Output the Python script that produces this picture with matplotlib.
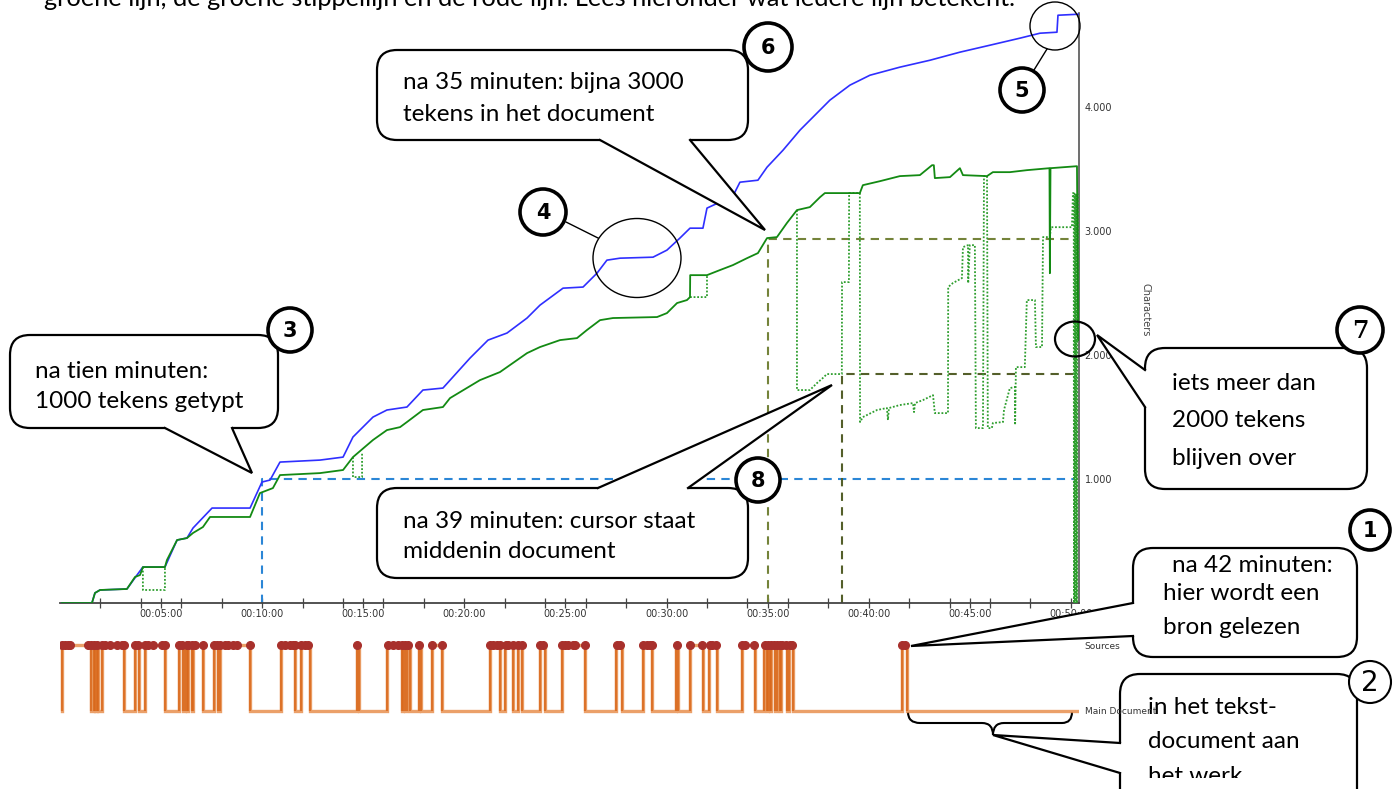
import numpy as np
import matplotlib
matplotlib.use("Agg")
import matplotlib.pyplot as plt
from matplotlib.patches import FancyBboxPatch, Polygon, Circle, Ellipse, PathPatch
from matplotlib.path import Path
from matplotlib.transforms import Bbox, TransformedBbox

# ---------------- data (time in minutes, characters) ----------------
blue_t = [0.1, 1.58, 1.73, 1.98, 3.31, 3.81, 4.10, 5.19, 5.79, 6.28, 6.58, 7.52, 9.40, 9.99,
          10.39, 10.88, 12.86, 14.00, 14.49, 15.48, 16.17, 17.16, 17.95, 18.94, 20.28, 21.17,
          22.11, 23.10, 23.74, 24.88, 25.87, 26.56, 27.05, 27.70, 29.33, 30.02, 30.66, 31.16,
          31.80, 32.00, 32.64, 33.28, 33.63, 34.52, 34.97, 35.76, 36.60, 38.08, 39.07, 40.06,
          41.54, 43.03, 44.51, 45.99, 47.48, 48.47, 49.31, 49.36, 50.36]
blue_c = [0, 0, 81, 105, 113, 226, 290, 290, 508, 524, 605, 766, 766, 976,
          992, 1137, 1153, 1177, 1339, 1500, 1557, 1581, 1718, 1734, 1976, 2121,
          2178, 2299, 2403, 2540, 2549, 2661, 2766, 2782, 2790, 2847, 2944, 3024,
          3024, 3186, 3234, 3282, 3395, 3411, 3516, 3653, 3815, 4057, 4178, 4258,
          4323, 4379, 4444, 4500, 4557, 4597, 4605, 4742, 4750]

product_t = [0.1, 1.58, 1.73, 1.98, 3.31, 3.71, 3.96, 4.10, 5.19, 5.29, 5.79, 6.28, 6.58, 7.07,
             7.42, 9.40, 9.89, 10.53, 10.88, 12.86, 14.00, 14.49, 15.48, 16.17, 16.82, 17.16,
             17.95, 18.94, 19.29, 20.77, 21.76, 22.11, 23.10, 23.74, 24.73, 25.57, 26.06, 26.71,
             27.35, 29.53, 30.02, 30.52, 31.01, 31.16, 31.17, 32.00, 32.64, 33.28, 33.98, 34.52,
             34.97, 35.46, 35.95, 36.45, 37.09, 37.59, 37.83, 39.56, 39.71, 40.55, 41.54, 42.53,
             43.13, 43.22, 43.27, 44.02, 44.51, 44.66, 45.85, 46.14, 46.98, 47.82, 48.94, 48.96,
             48.99, 50.30, 50.36]
product_c = [0, 0, 81, 105, 113, 210, 226, 290, 290, 347, 508, 524, 565, 613,
             694, 694, 887, 927, 1032, 1048, 1073, 1177, 1315, 1395, 1419, 1460,
             1557, 1581, 1653, 1798, 1863, 1903, 2016, 2065, 2121, 2137, 2202, 2282,
             2299, 2307, 2339, 2420, 2444, 2468, 2645, 2645, 2686, 2726, 2782, 2823,
             2944, 2952, 3065, 3170, 3194, 3274, 3307, 3307, 3371, 3403, 3444, 3452,
             3532, 3532, 3428, 3436, 3508, 3452, 3444, 3476, 3476, 3492, 3508, 2661,
             3508, 3524, 2121]

# cursor position (only where it leaves the end of the text); NaN separates episodes
cursor_t = [4.10, 4.10, 5.19, 5.19, np.nan,
            14.49, 14.49, 14.94, 14.94, np.nan,
            31.16, 32.00, 32.00, np.nan,
            36.45, 36.45, 37.09, 37.44, 37.73, 37.93, 38.67, 38.68, 39.02, 39.03, 39.56, 39.57,
            39.71, 40.41, 40.90, 40.95, 41.00, 41.54, 42.19, 42.24, 42.29, 42.68, 43.18, 43.27,
            43.92, 43.93, 44.16, 44.61, 44.66, 44.91, 44.92, 45.00, 45.25, 45.30, 45.65, 45.70,
            45.85, 45.89, 46.09, 46.14, 46.64, 46.69, 46.98, 47.23, 47.24, 47.28, 47.72, 47.82,
            48.22, 48.27, 48.57, 48.62, 48.96, 49.01, 50.05, 50.10, 50.14, 50.15, 50.19, 50.22,
            50.26, 50.29, 50.33, 50.36]
cursor_c = [290, 105, 105, 290, np.nan,
            1177, 1016, 1016, 1210, np.nan,
            2468, 2468, 2645, np.nan,
            3170, 1718, 1718, 1774, 1815, 1847, 1847, 2589, 2589, 3307, 3307, 1460,
            1500, 1557, 1573, 1476, 1573, 1597, 1613, 1540, 1613, 1637, 1677, 1532,
            1532, 2549, 2581, 2621, 2871, 2887, 2581, 2887, 2887, 1411, 1411, 3444,
            3444, 1411, 1411, 1452, 1460, 1557, 1734, 1742, 1436, 1903, 1903, 2444,
            2444, 2065, 2065, 2952, 2952, 3032, 3032, 3307, 3307, 0, 3300, 0,
            3300, 0, 3300, 2121]

# reference lines (minute, characters)
ref_t = [10.0, 35.0, 38.67]
ref_c = [1000, 2940, 1847]
ref_colors = ["#2b86d6", "#74833a", "#545f2a"]
ref_end = 50.2

# time spent in sources (start, end) in minutes
source_intervals = [(0.09, 1.53), (1.66, 1.73), (1.83, 1.90), (2.06, 3.18), (3.71, 3.91),
                    (4.20, 5.19), (5.89, 6.10), (6.18, 6.27), (6.33, 6.51), (6.58, 7.09),
                    (7.63, 7.80), (7.91, 9.40), (10.92, 11.62), (11.92, 12.36), (14.67, 14.79),
                    (16.16, 16.90), (16.96, 17.06), (17.14, 17.31), (17.76, 17.85), (18.41, 18.88),
                    (21.27, 21.76), (22.01, 22.42), (22.67, 22.83), (23.74, 23.99), (24.81, 25.96),
                    (27.50, 27.78), (28.82, 29.26), (30.47, 30.58), (31.16, 31.80), (32.11, 32.51),
                    (33.71, 34.37), (34.82, 34.95), (35.02, 35.11), (35.19, 35.36), (35.44, 35.61),
                    (35.68, 35.97), (36.05, 36.24), (41.63, 41.87)]
source_dots = [0.08, 0.25, 0.41, 0.49, 1.40, 1.53, 1.68, 1.85, 2.06, 2.23, 2.47, 2.80, 3.05,
               3.18, 3.71, 3.87, 4.20, 4.37, 4.61, 5.03, 5.19, 5.89, 6.05, 6.27, 6.35, 6.51,
               6.68, 7.09, 7.63, 7.75, 7.91, 8.16, 8.32, 8.57, 8.74, 9.40, 10.92, 11.13, 11.37,
               11.52, 11.62, 11.92, 12.12, 12.28, 14.70, 16.24, 16.48, 16.73, 16.90, 17.06,
               17.23, 17.77, 18.41, 18.88, 21.27, 21.43, 21.60, 21.76, 22.04, 22.17, 22.42,
               22.67, 22.83, 23.74, 23.90, 24.81, 24.98, 25.14, 25.39, 25.47, 25.96, 27.53,
               27.69, 28.85, 29.02, 29.18, 29.26, 30.51, 31.16, 31.74, 32.15, 32.25, 32.45,
               33.73, 33.88, 34.34, 34.87, 35.01, 35.16, 35.31, 35.46, 35.61, 35.71, 35.91,
               36.10, 36.20, 41.64, 41.79]
session_start = 0.08
session_end = 50.36

x_major = [5, 10, 15, 20, 25, 30, 35, 40, 45, 50]
x_labels = ["00:05:00", "00:10:00", "00:15:00", "00:20:00", "00:25:00",
            "00:30:00", "00:35:00", "00:40:00", "00:45:00", "00:50:00"]
x_minor = list(range(2, 51, 2))
y_ticks = [1000, 2000, 3000, 4000]
y_labels = ["1.000", "2.000", "3.000", "4.000"]
level_labels = ["Main Document", "Sources"]

top_text = "groene lijn, de groene stippellijn en de rode lijn. Lees hieronder wat iedere lijn betekent."

# ---------------- figure ----------------
W, H = 1399, 789
fig = plt.figure(figsize=(W / 100, H / 100), dpi=100)
TXT = ["Lato", "DejaVu Sans"]


def px_rect(l, t, r, b):
    return [l / W, 1 - b / H, (r - l) / W, (b - t) / H]


ax = fig.add_axes(px_rect(60, 13, 1079, 603), zorder=1)
ax.set_xlim(0, 50.4)
ax.set_ylim(0, 4760)
ax.patch.set_alpha(0)
for s in ("left", "top"):
    ax.spines[s].set_visible(False)
ax.spines["right"].set_color("#555555")
ax.spines["right"].set_linewidth(1.2)
ax.spines["bottom"].set_color("#444444")
ax.spines["bottom"].set_linewidth(1.3)
ax.set_xticks(x_major)
ax.set_xticklabels(x_labels)
ax.set_xticks(x_minor, minor=True)
ax.tick_params(axis="x", which="both", direction="inout", length=7, width=0.9,
               color="#444444", labelsize=7, labelcolor="#333333", pad=1)
ax.yaxis.tick_right()
ax.set_yticks(y_ticks)
ax.set_yticklabels(y_labels)
ax.tick_params(axis="y", length=0, labelsize=7, labelcolor="#333333", pad=4)
ax.text(1.0648, 0.4966, "Characters", transform=ax.transAxes, rotation=270,
        ha="center", va="center", fontsize=7, color="#444444")

for t, c, col in zip(ref_t, ref_c, ref_colors):
    ax.plot([t, t, ref_end], [0, c, c], color=col, lw=1.5, ls=(0, (4, 3)), zorder=2)

ax.plot(blue_t, blue_c, color="#2f2fff", lw=1.2, zorder=3)
ax.plot(cursor_t, cursor_c, color="#2e9e2e", lw=1.3, ls=(0, (1, 1)), zorder=4)
ax.plot(product_t, product_c, color="#138a13", lw=1.3, zorder=5)

# process graph (sources vs main document)
ax2 = fig.add_axes(px_rect(60, 640, 1079, 716), zorder=6)
ax2.set_xlim(0, 50.4)
ax2.set_ylim(-0.08, 1.08)
ax2.patch.set_alpha(0)
for s in ax2.spines.values():
    s.set_visible(False)
ax2.set_xticks([])
ax2.yaxis.tick_right()
ax2.set_yticks([0, 1])
ax2.set_yticklabels(level_labels)
ax2.tick_params(axis="y", length=0, labelsize=6.5, labelcolor="#333333", pad=4)

st, sv = [session_start], [0]
for a, b in source_intervals:
    st += [a, a, b, b]
    sv += [0, 1, 1, 0]
st.append(session_end)
sv.append(0)
ax2.plot(st, sv, color="#e8904f", alpha=0.85, lw=2.4, solid_joinstyle="miter")
trans = [v for ab in source_intervals for v in ab]
ax2.vlines(trans, 0, 1, color="#d9671a", lw=1.6, alpha=0.8)
ax2.plot(source_dots, np.ones(len(source_dots)), "o", color="#a8302c", ms=5.5, zorder=5)

# ---------------- annotation overlay (pixel coordinates) ----------------
ov = fig.add_axes([0, 0, 1, 1], zorder=5)
ov.set_xlim(0, W)
ov.set_ylim(H, 0)
ov.axis("off")
ov.patch.set_alpha(0)

ov.text(44, 6, top_text, fontsize=18.3, va="baseline", ha="left", family=TXT)

FS = 17.5


def callout(l, t, r, b, base, tip, inward, lines, fs=FS, clip_bottom=None):
    ov.add_patch(FancyBboxPatch((l, t), r - l, b - t, boxstyle="round,pad=0,rounding_size=20",
                                fc="white", ec="black", lw=1.6, zorder=2, clip_on=False))
    (x1, y1), (x2, y2) = base
    dx, dy = inward
    ov.add_patch(Polygon([(x1, y1), tip, (x2, y2), (x2 + dx, y2 + dy), (x1 + dx, y1 + dy)],
                         closed=True, fc="white", ec="none", zorder=3))
    ov.plot([x1, tip[0], x2], [y1, tip[1], y2], color="black", lw=1.6, zorder=4,
            solid_joinstyle="miter")
    for txt, x, y, va in lines:
        t_ = ov.text(x, y, txt, fontsize=fs, ha="left", va=va, family=TXT, zorder=5)
        if clip_bottom is not None:
            bb = TransformedBbox(Bbox([[l, t], [r, clip_bottom]]), ov.transData)
            t_.set_clip_box(bb)
            t_.set_clip_on(True)


def num(cx, cy, r, s, lw=2.6, bold=True, family="DejaVu Sans", fs=15):
    ov.add_patch(Circle((cx, cy), r, fc="white", ec="black", lw=lw, zorder=6))
    ov.text(cx, cy + 1, s, ha="center", va="center", fontsize=fs,
            fontweight="bold" if bold else "normal", family=family, zorder=7)


C = "center"
callout(377, 50, 748, 140, ((600, 140), (690, 140)), (765, 230), (0, -4),
        [("na 35 minuten: bijna 3000", 403, 82, C), ("tekens in het document", 403, 114, C)])
callout(10, 335, 278, 428, ((165, 428), (232, 428)), (252, 473), (0, -4),
        [("na tien minuten:", 35, 371, C), ("1000 tekens getypt", 35, 401, C)])
callout(377, 488, 748, 578, ((598, 488), (688, 488)), (832, 385), (0, 4),
        [("na 39 minuten: cursor staat", 403, 521, C), ("middenin document", 403, 552, C)])
callout(1145, 348, 1367, 489, ((1145, 370), (1145, 407)), (1097, 335), (4, 0),
        [("iets meer dan", 1172, 383, C), ("2000 tekens", 1172, 420, C),
         ("blijven over", 1172, 458, C)])
callout(1133, 548, 1357, 657, ((1133, 603), (1133, 636)), (911, 646), (4, 0),
        [("na 42 minuten:", 1172, 565, C), ("hier wordt een", 1163, 594, C),
         ("bron gelezen", 1163, 627, C)])
callout(1120, 674, 1357, 830, ((1120, 743), (1120, 773)), (993, 735), (4, 0),
        [("in het tekst-", 1148, 708, C), ("document aan", 1148, 742, C),
         ("het werk", 1148, 783, "baseline")], clip_bottom=778)

# brace under main document stretch
verts = [(908, 712), (908, 723), (920, 723), (982, 723), (993, 723), (993, 735),
         (993, 723), (1004, 723), (1062, 723), (1072, 723), (1072, 712)]
codes = [Path.MOVETO, Path.CURVE3, Path.CURVE3, Path.LINETO, Path.CURVE3, Path.CURVE3,
         Path.CURVE3, Path.CURVE3, Path.LINETO, Path.CURVE3, Path.CURVE3]
ov.add_patch(PathPatch(Path(verts, codes), fill=False, ec="black", lw=1.5, zorder=4))

# ellipses and connectors
ov.add_patch(Ellipse((637, 258), 88, 79, fill=False, ec="black", lw=1.0, zorder=4))
ov.plot([566, 598], [222, 238], color="black", lw=1.0, zorder=4)
ov.add_patch(Ellipse((1055, 26), 50, 48, fill=False, ec="black", lw=1.0, zorder=4))
ov.plot([1047, 1034], [49, 70], color="black", lw=1.0, zorder=4)
ov.add_patch(Ellipse((1075, 339), 40, 35, fill=False, ec="black", lw=1.6, zorder=4))

num(1370, 530, 20, "1")
num(1370, 682, 21, "2", lw=1.5, bold=False, fs=20)
num(290, 330, 22, "3")
num(543, 212, 23, "4")
num(1022, 90, 22, "5")
num(768, 47, 24, "6")
num(1360, 330, 23, "7", family="DejaVu Serif", fs=17)
num(758, 480, 22, "8")

fig.savefig("out.png", dpi=100)
